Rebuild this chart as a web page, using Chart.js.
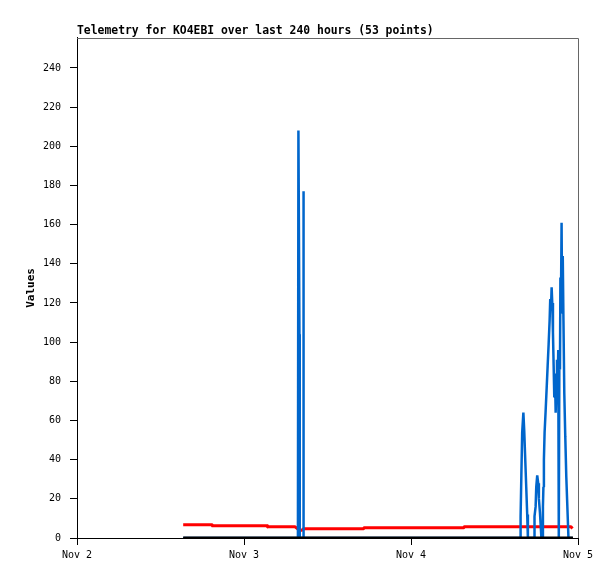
<!DOCTYPE html>
<html>
<head>
<meta charset="utf-8">
<script src="https://cdn.jsdelivr.net/npm/chart.js@4"></script>
<style>
  html, body { margin: 0; padding: 0; background: #ffffff; }
  #c { display: block; }
</style>
</head>
<body>
<canvas id="c" width="615" height="579"></canvas>
<script>
// Time in hours since Nov 2 00:00
const titleText = 'Telemetry for KO4EBI over last 240 hours (53 points)';
const yTitle = 'Values';
const xTickHours = [0, 24, 48, 72];
const xTickLabels = ['Nov 2', 'Nov 3', 'Nov 4', 'Nov 5'];
const yTickValues = [0, 20, 40, 60, 80, 100, 120, 140, 160, 180, 200, 220, 240];

// Black series (flat at zero)
const blackHours = [15.26, 71.28];
const blackValues = [0, 0];

// Red series
const redHours = [15.26, 19.40, 19.47, 27.32, 27.39, 31.32, 31.61, 31.90, 32.33, 32.54, 41.18, 41.26, 55.58, 55.66, 70.99, 71.21];
const redValues = [6.8, 6.8, 6.2, 6.2, 5.7, 5.7, 5.0, 4.0, 4.0, 4.7, 4.7, 5.2, 5.2, 5.7, 5.7, 4.8];

// Blue series
const blueHours = [
  15.26, 31.75, 31.82, 31.97, 32.01, 32.49, 32.53, 32.59,
  63.69, 63.75, 63.86, 63.98, 64.15, 64.27, 64.41, 64.56, 64.70, 64.80,
  65.71, 65.75, 65.91, 66.00, 66.14, 66.28, 66.38, 66.53, 66.63, 66.74,
  66.90, 66.96, 67.03, 67.10, 67.20, 67.35, 67.49, 67.64, 67.78, 67.92,
  68.01, 68.11, 68.21, 68.30, 68.40, 68.50, 68.59, 68.69, 68.79, 68.88,
  68.98, 69.08, 69.16, 69.24, 69.32, 69.41, 69.47, 69.55, 69.64, 69.72,
  69.81, 69.91, 70.03, 70.17, 70.32, 70.44, 70.63, 71.21
];
const blueValues = [
  0, 0, 208, 104, 0, 0, 177, 0,
  0, 11, 32, 54, 64, 55, 41, 26, 12, 0,
  0, 11, 16, 26, 32, 28, 20, 13, 7, 0,
  0, 16, 26, 40, 54, 65, 76, 88, 99, 111,
  122, 116, 128, 120, 105, 88, 72, 84, 64, 76,
  91, 78, 96, 0, 91, 86, 133, 120, 161, 115,
  144, 111, 74, 52, 31, 19, 0, 0
];

function pts(xs, ys) { return xs.map((x, i) => ({ x: x, y: ys[i] })); }

const frame = {
  id: 'frame',
  afterDatasetsDraw(chart) {
    const a = chart.chartArea, ctx = chart.ctx;
    ctx.save();
    ctx.strokeStyle = '#666666';
    ctx.lineWidth = 1;
    ctx.beginPath();
    ctx.moveTo(a.left, Math.round(a.top) + 0.5);
    ctx.lineTo(Math.round(a.right) + 0.5, Math.round(a.top) + 0.5);
    ctx.lineTo(Math.round(a.right) + 0.5, a.bottom);
    ctx.stroke();
    ctx.restore();
  }
};

const mono = '"DejaVu Sans Mono", "Liberation Mono", monospace';

new Chart(document.getElementById('c'), {
  type: 'line',
  data: {
    datasets: [
      { data: pts(blackHours, blackValues), borderColor: '#000000', borderWidth: 3, pointRadius: 0, order: 0 },
      { data: pts(blueHours, blueValues), borderColor: '#0066cc', borderWidth: 2.5, borderJoinStyle: 'bevel', pointRadius: 0, order: 1 },
      { data: pts(redHours, redValues), borderColor: '#ff0000', borderWidth: 3, borderJoinStyle: 'round', pointRadius: 0, order: 2 }
    ]
  },
  options: {
    responsive: false,
    animation: false,
    devicePixelRatio: 1,
    events: [],
    layout: { padding: { left: 0, right: 37, top: 0, bottom: 0 } },
    elements: { line: { tension: 0, fill: false } },
    plugins: {
      legend: { display: false },
      tooltip: { enabled: false },
      title: {
        display: true,
        text: titleText,
        align: 'start',
        fullSize: false,
        color: '#000000',
        font: { family: mono, size: 11.4, weight: 'bold' },
        padding: { top: 24, bottom: 0.3 }
      }
    },
    scales: {
      x: {
        type: 'linear',
        min: 0,
        max: 72,
        afterBuildTicks(s) { s.ticks = xTickHours.map(v => ({ value: v })); },
        afterFit(s) { s.height = 41; },
        grid: { display: true, drawOnChartArea: false, drawTicks: true, tickLength: 7, tickColor: '#000000' },
        border: { display: true, color: '#000000', width: 1 },
        ticks: {
          color: '#000000',
          padding: 4,
          maxRotation: 0,
          autoSkip: false,
          font: { family: mono, size: 10 },
          callback(v) { const i = xTickHours.indexOf(v); return i >= 0 ? xTickLabels[i] : ''; }
        }
      },
      y: {
        type: 'linear',
        min: 0,
        max: 255.3,
        afterBuildTicks(s) { s.ticks = yTickValues.map(v => ({ value: v })); },
        afterFit(s) { s.width = 77; },
        grid: { display: true, drawOnChartArea: false, drawTicks: true, tickLength: 7, tickColor: '#000000' },
        border: { display: true, color: '#000000', width: 1 },
        title: {
          display: true,
          text: yTitle,
          color: '#000000',
          font: { family: mono, size: 11, weight: 'bold' },
          padding: { top: 25, bottom: 0 }
        },
        ticks: {
          color: '#000000',
          padding: 9,
          autoSkip: false,
          font: { family: mono, size: 10 }
        }
      }
    }
  },
  plugins: [frame]
});
</script>
</body>
</html>
